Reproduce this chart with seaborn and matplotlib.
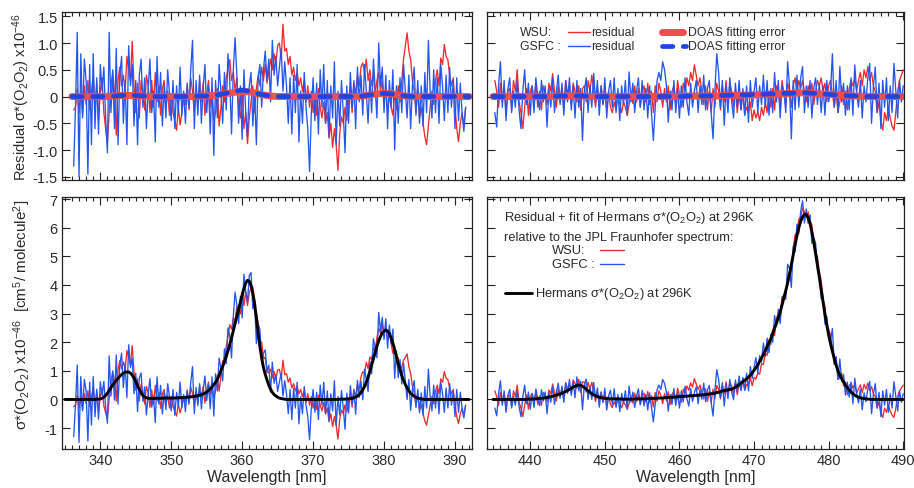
import numpy as np
import matplotlib
matplotlib.use("Agg")
import matplotlib.pyplot as plt
import seaborn as sns
from matplotlib.ticker import MultipleLocator, FuncFormatter

# ---------------- data ----------------
# residual sampling (nm)
left_start, left_step = 336.25, 0.25      # 336.25 .. 391.5
right_start, right_step = 435.25, 0.25    # 435.25 .. 490.0
fit_left_start = 335.0                    # 335.0 .. 392.0
fit_right_start = 435.0                   # 435.0 .. 490.0
err_left_start, err_right_start = 336.0, 435.0  # 1 nm steps

gsfc_res_left = [
    -1.3, -0.2, 1.2, -1.5,   0.8, -0.4, 0.7, 0.3,   -1.45, 0.6, -0.9, 0.8,
    -0.6, 0.35, -0.7, 0.6,   0.1, 0.55, -0.4, -1.05,  1.2, -0.3, 0.5, -0.6,
    0.9, -0.9, 0.4, 0.75,    -0.5, 0.3, -0.9, 0.95,   0.2, 0.6, -0.55, 0.3,
    -0.9, 0.4, 0.7, -0.2,    0.35, -0.6, 0.15, 0.7,   -0.3, 0.1, -0.85, 0.75,
    -0.2, 0.45, -0.55, 0.2,  -0.4, 0.5, 0.05, -0.45,  0.3, -0.6, 0.2, -0.3,
    0.55, -0.35, 0.1, -0.5,  0.25, -0.2, 0.5, 1.05,   -0.6, 0.3, -0.35, 0.4,
    -0.5, 0.15, 0.6, -0.3,   0.2, -0.7, 0.35, -1.1,   0.3, -0.4, 0.6, 0.1,
    -0.5, 0.45, -0.25, 0.8,  0.3, -0.7, 0.5, 1.1,     0.4, -0.5, 0.2, -0.8,
    0.5, -0.3, -0.75, 0.2,   0.45, -0.55, 0.1, -0.9,  0.35, 0.6, -0.2, 0.5,
    0.85, 0.3, 0.7, -0.1,    1.05, 0.4, 0.75, 0.2,    0.55, 0.9, 0.1, 0.65,
    0.2, -0.5, 0.35, -0.7,   0.4, -0.3, 0.6, -0.85,   0.1, -0.5, 0.45, -0.2,
    -0.6, -1.4, -0.3, 0.35,  -0.45, 0.25, -0.7, 0.5,  -0.2, 0.6, -0.5, 0.3,
    -0.75, 0.2, -0.4, 0.65,  -0.9, 0.1, -0.55, 0.3,   -0.3, -1.05, 0.2, -0.5,
    0.45, -0.2, 0.3, -0.6,   0.55, -0.1, 0.4, -0.35,  0.6, 0.1, -0.5, 0.35,
    -0.3, 0.7, 0.15, -0.4,   1.0, 0.2, 0.55, -0.3,    0.4, -0.6, 0.3, -0.2,
    0.5, -1.0, 0.2, -0.5,    0.35, -0.3, 0.6, 0.1,    -0.4, 0.4, -0.6, 0.2,
    0.55, -0.35, 0.3, -0.5,  0.2, -0.55, 0.45, -0.3,  1.05, 0.1, -0.4, 0.5,
    -0.3, 0.35, -0.5, 0.6,   0.2, -0.45, 0.4, -0.3,   0.55, -0.2, 0.3, -0.6,
    0.35, -0.45, 0.25, -0.3, -0.65, -0.2,
]

wsu_res_left = [
    -0.25, -0.2, 0.15, -0.3,  0.1, -0.35, 0.2, -0.15,  0.3, -0.25, 0.1, 0.4,
    -0.2, 0.25, -0.45, 0.1,   0.35, -0.3, -0.6, -0.88, -0.3, 0.2, 0.45, 0.1,
    -0.72, 0.3, 0.55, 0.2,    0.4, 0.1, 0.75, 0.5,     0.3, 1.03, 0.2, -0.3,
    0.25, -0.4, 0.3, 0.05,    -0.25, 0.4, 0.2, -0.3,   0.3, -0.2, 0.45, -0.1,
    0.2, -0.35, 0.15, 0.3,    -0.2, 0.1, -0.35, 0.05,  -0.3, -0.45, -0.63, -0.2,
    -0.53, -0.3, 0.05, -0.15, 0.2, -0.25, 0.35, 0.1,   -0.3, 0.15, -0.2, 0.3,
    -0.1, 0.25, -0.35, 0.05,  0.3, -0.2, 0.1, -0.45,   -0.3, 0.15, -0.55, -0.2,
    0.2, -0.1, 0.35, 0.5,     0.69, 0.3, 0.45, 0.1,    0.35, -0.2, -0.4, 0.1,
    -0.6, -0.3, -0.88, -0.4,  -0.1, 0.2, -0.3, 0.15,   0.4, 0.2, 0.55, 0.3,
    0.6, 0.25, 0.45, 0.7,     0.5, 0.8, 0.6, 0.95,     1.0, 0.7, 1.35, 0.85,
    0.9, 0.6, 0.75, 0.4,      0.55, 0.3, 0.45, 0.2,    0.35, 0.1, 0.3, -0.1,
    0.2, -0.2, 0.1, -0.3,     0.05, -0.35, 0.15, -0.2, -0.4, -0.1, -0.5, -0.3,
    -0.78, -0.5, -0.95, -0.6, -0.9, -1.38, -0.7, -0.38, -0.5, -0.2, -0.45, -0.1,
    0.15, -0.3, 0.25, 0.05,   0.4, 0.2, 0.55, 0.63,    0.45, 0.7, 0.3, 0.5,
    0.2, 0.4, 0.05, 0.3,      0.45, 0.1, 0.3, -0.1,    0.1, -0.3, 0.05, -0.2,
    -0.35, 0.1, -0.25, 0.2,   -0.1, 0.3, 0.7, 0.95,    1.19, 0.85, 0.69, 0.3,
    0.1, -0.3, 0.15, -0.4,    -0.2, -0.5, -0.75, -0.9, -0.55, -0.2, 0.1, -0.15,
    0.3, 0.5, 0.2, 0.72,      0.6, 0.97, 0.75, 0.69,   0.4, 0.2, 0.35, -0.2,
    -0.6, -0.84, -0.5, -0.3,  -0.55, -0.2,
]

gsfc_res_right = [
    -0.3, -0.57, 0.2, 0.65,   -0.2, 0.3, -0.45, 0.15,  0.35, -0.3, 0.1, -0.2,
    0.3, -0.25, -0.6, 0.1,    0.5, -0.15, 0.25, -0.35, 0.2, -0.3, 0.35, 0.0,
    -0.25, 0.3, -0.1, 0.2,    -0.57, 0.15, -0.2, 0.35, -0.3, 0.1, 0.4, -0.15,
    0.25, -0.35, 0.3, -0.1,   0.35, -0.25, 0.2, -0.4,  0.3, -0.2, 0.15, -0.82,
    0.1, 0.35, -0.3, 0.2,     -0.2, 0.43, -0.1, 0.3,   -0.35, 0.2, -0.15, 0.35,
    -0.4, 0.1, 0.3, -0.2,     0.35, -0.3, 0.15, -0.45, 0.2, -0.15, 0.3, -0.35,
    0.46, -0.1, 0.25, -0.3,   0.1, 0.35, -0.2, 0.3,    -0.25, 0.15, -0.4, 0.2,
    -0.3, -0.82, -0.2, 0.3,   0.45, 0.3, 0.65, 0.5,    0.2, -0.48, 0.1, -0.25,
    0.3, -0.3, 0.15, -0.4,    0.2, -0.2, 0.35, -0.1,   -0.35, 0.25, -0.2, 0.1,
    0.3, -0.3, 0.2, -0.15,    0.4, -0.25, 0.15, 0.3,   -0.3, -0.79, 0.1, 0.8,
    0.45, -0.2, 0.3, -0.54,   0.2, -0.3, 0.35, -0.1,   -0.4, 0.25, -0.2, 0.3,
    -0.25, 0.15, -0.35, 0.2,  -0.48, 0.3, -0.2, 0.1,   0.35, -0.3, 0.2, -0.15,
    0.4, -0.2, 0.3, -0.35,    0.15, -0.3, 0.45, -0.1,  0.3, -0.4, 0.2, 0.1,
    -0.3, 0.65, 0.2, -0.79,   0.3, -0.25, 0.4, -0.2,   0.35, 0.56, -0.3, 0.2,
    -0.2, 0.3, -0.4, 0.15,    0.35, -0.15, 0.25, -0.3, 0.2, -0.35, 0.3, -0.1,
    0.1, 0.8, -0.2, 0.3,      -0.3, 0.56, -0.1, 0.25,  -0.35, 0.2, -0.25, 0.35,
    -0.35, 0.59, 0.1, -0.2,   0.3, -0.4, 0.2, -0.1,    0.35, 0.62, -0.5, 0.2,
    0.55, -0.3, 0.25, -0.6,   0.3, -0.2, 0.35, -0.45,  0.2, -0.3, 0.62, 0.1,
    -0.4, 0.3, -0.1, 0.2,
]

wsu_res_right = [
    0.3, 0.1, -0.2, 0.25,     -0.1, 0.2, -0.3, 0.1,    0.15, -0.2, 0.3, 0.1,
    0.5, -0.1, -0.3, -0.6,    -0.2, 0.15, -0.35, 0.1,  0.2, -0.1, 0.25, -0.2,
    0.1, -0.25, 0.2, 0.05,    -0.15, 0.25, 0.1, 0.43,  0.1, -0.2, 0.2, -0.1,
    0.15, -0.25, 0.3, 0.05,   0.2, -0.15, 0.25, 0.1,   -0.1, 0.2, -0.25, 0.15,
    0.2, -0.1, 0.3, 0.1,      0.4, 0.1, -0.2, 0.15,    -0.1, 0.2, -0.15, 0.1,
    -0.25, 0.1, -0.2, -0.3,   -0.1, -0.25, 0.05, -0.15, -0.3, -0.1, -0.2, -0.35,
    -0.15, 0.1, -0.13, 0.2,   -0.1, 0.15, -0.2, 0.1,   0.2, -0.1, 0.25, -0.15,
    0.1, -0.3, 0.2, -0.1,     0.25, 0.1, -0.2, 0.15,   -0.1, 0.2, -0.25, 0.1,
    0.2, -0.15, 0.3, 0.05,    -0.2, 0.25, 0.1, 0.35,   0.2, 0.45, 0.3, 0.59,
    0.4, 0.2, 0.35, 0.1,      -0.15, 0.2, -0.25, 0.1,  -0.3, 0.15, -0.2, 0.25,
    0.1, -0.25, 0.2, -0.1,    0.3, -0.15, 0.25, 0.1,   -0.2, 0.15, -0.3, 0.05,
    -0.25, 0.1, -0.35, -0.2,  -0.3, -0.1, -0.45, -0.25, -0.4, -0.29, -0.45, -0.2,
    -0.35, -0.1, -0.3, 0.1,   -0.2, 0.15, -0.25, 0.2,  0.1, -0.2, 0.3, 0.05,
    -0.15, 0.25, 0.1, -0.2,   0.2, 0.35, 0.1, 0.3,     0.15, 0.3, 0.1, -0.1,
    0.2, 0.05, 0.25, -0.15,   0.1, 0.3, 0.2, 0.35,     0.1, 0.25, -0.1, 0.2,
    0.3, 0.05, -0.2, 0.1,     -0.3, -0.1, 0.2, -0.15,  0.1, -0.25, 0.15, 0.3,
    0.2, 0.35, 0.1, 0.3,      0.45, 0.2, 0.5, 0.35,    0.56, 0.3, 0.45, 0.2,
    0.1, -0.3, -0.1, -0.45,   -0.63, -0.3, -0.45, -0.2, -0.4, -0.55, -0.63, -0.3,
    0.1, 0.3, 0.4, 0.5,
]

hermans_left = [
    0, 0, 0, 0, 0,
    0, 0, 0, 0,   0, 0, 0, 0,   0, 0, 0, 0,   0, 0.01, 0.01, 0.02,
    0.04, 0.08, 0.14, 0.22,   0.32, 0.42, 0.5, 0.58,   0.66, 0.74, 0.81, 0.87,
    0.92, 0.95, 0.96, 0.96,   0.92, 0.85, 0.75, 0.62,  0.48, 0.35, 0.23, 0.14,
    0.09, 0.06, 0.04, 0.03,   0.03, 0.03, 0.04, 0.04,  0.04, 0.04, 0.04, 0.05,
    0.05, 0.05, 0.05, 0.05,   0.05, 0.05, 0.05, 0.06,  0.06, 0.06, 0.07, 0.07,
    0.08, 0.08, 0.09, 0.1,    0.11, 0.12, 0.13, 0.15,  0.17, 0.19, 0.22, 0.26,
    0.31, 0.37, 0.44, 0.52,   0.6, 0.7, 0.84, 1.0,     1.15, 1.32, 1.5, 1.7,
    1.92, 2.15, 2.4, 2.65,    2.9, 3.15, 3.4, 3.65,    3.88, 4.06, 4.16, 4.13,
    3.98, 3.72, 3.35, 2.85,   2.3, 1.85, 1.45, 1.12,   0.88, 0.68, 0.5, 0.36,
    0.25, 0.17, 0.12, 0.08,   0.05, 0.03, 0.02, 0.01,  0, 0, 0, 0,
    0, 0, 0, 0,   0, 0, 0, 0,   0, 0, 0, 0,   0, 0, 0, 0,   0, 0, 0, 0,
    0, 0, 0, 0,
    0, 0, 0.01, 0.01,         0.01, 0.01, 0.02, 0.02,  0.03, 0.04, 0.06, 0.08,
    0.12, 0.17, 0.24, 0.34,   0.45, 0.6, 0.78, 0.98,   1.2, 1.42, 1.65, 1.86,
    2.04, 2.2, 2.32, 2.39,    2.42, 2.39, 2.3, 2.15,   1.96, 1.74, 1.5, 1.26,
    1.04, 0.84, 0.67, 0.52,   0.4, 0.3, 0.22, 0.16,    0.11, 0.07, 0.05, 0.03,
    0.02, 0.01, 0, 0,
    0, 0, 0, 0,   0, 0, 0, 0,   0, 0, 0, 0,   0, 0, 0, 0,   0, 0, 0, 0,
    0, 0, 0, 0,
]

hermans_right = [
    0,
    0, 0, 0, 0,   0, 0, 0, 0,   0, 0, 0, 0,   0, 0, 0, 0,
    0, 0, 0.01, 0.01,         0.01, 0.02, 0.02, 0.03,  0.03, 0.04, 0.05, 0.06,
    0.07, 0.08, 0.1, 0.11,    0.13, 0.15, 0.17, 0.19,  0.22, 0.25, 0.28, 0.31,
    0.35, 0.39, 0.43, 0.46,   0.49, 0.5, 0.49, 0.46,   0.41, 0.36, 0.3, 0.25,
    0.2, 0.16, 0.13, 0.1,     0.08, 0.06, 0.05, 0.04,  0.03, 0.03, 0.02, 0.02,
    0.02, 0.02, 0.02, 0.02,   0.01, 0.01, 0.01, 0.01,  0.01, 0.01, 0.01, 0.02,
    0.02, 0.02, 0.02, 0.02,   0.02, 0.02, 0.03, 0.03,  0.03, 0.04, 0.04, 0.04,
    0.05, 0.05, 0.05, 0.06,   0.06, 0.07, 0.07, 0.08,  0.08, 0.09, 0.09, 0.1,
    0.1, 0.11, 0.11, 0.12,    0.12, 0.13, 0.13, 0.14,  0.14, 0.15, 0.15, 0.16,
    0.17, 0.17, 0.18, 0.19,   0.2, 0.21, 0.22, 0.24,   0.25, 0.27, 0.29, 0.31,
    0.32, 0.33, 0.35, 0.36,   0.39, 0.43, 0.47, 0.52,  0.57, 0.62, 0.67, 0.72,
    0.78, 0.85, 0.93, 1.02,   1.11, 1.21, 1.33, 1.45,  1.57, 1.7, 1.84, 1.98,
    2.12, 2.3, 2.48, 2.66,    2.85, 3.05, 3.3, 3.55,   3.8, 4.07, 4.37, 4.7,
    5.05, 5.4, 5.72, 6.0,     6.22, 6.38, 6.46, 6.45,  6.35, 6.15, 5.85, 5.5,
    5.1, 4.68, 4.25, 3.82,    3.4, 2.98, 2.6, 2.25,    1.95, 1.68, 1.43, 1.2,
    1.0, 0.85, 0.72, 0.62,    0.5, 0.41, 0.33, 0.26,   0.2, 0.15, 0.11, 0.08,
    0.06, 0.04, 0.03, 0.02,   0.01, 0.01, 0, 0,
    0, 0, 0, 0,   0, 0, 0, 0,   0, 0, 0, 0,   0, 0, 0, 0,
]

wsu_err_left = [
    0, 0, 0, 0, 0, 0, 0.01,  0.02, 0.02, 0.02, 0.01, 0, 0, 0,
    0, 0, 0, 0, 0.01, 0.01, 0.02,  0.04, 0.06, 0.08, 0.09, 0.09, 0.06, 0.03,
    0.01, 0, 0, 0, 0, 0, 0,  0, 0, 0, 0, 0, 0, 0.01,
    0.03, 0.05, 0.06, 0.05, 0.03, 0.01, 0,  0, 0, 0, 0, 0, 0, 0,  0,
]
gsfc_err_left = [
    0, 0, 0, 0, 0, 0, 0.01,  0.02, 0.03, 0.02, 0.01, 0, 0, 0,
    0, 0, 0, 0, 0.01, 0.01, 0.02,  0.04, 0.07, 0.1, 0.12, 0.1, 0.06, 0.03,
    0.01, 0, 0, 0, 0, 0, 0,  0, 0, 0, 0, 0, 0, 0.01,
    0.03, 0.05, 0.06, 0.05, 0.03, 0.01, 0,  0, 0, 0, 0, 0, 0, 0,  0,
]
wsu_err_right = [
    0, 0, 0, 0, 0, 0, 0,  0, 0, 0.01, 0.01, 0.01, 0.01, 0,
    0, 0, 0, 0, 0, 0, 0,  0, 0, 0, 0, 0, 0.01, 0.01,
    0.01, 0.01, 0.01, 0.02, 0.02, 0.02, 0.03,  0.03, 0.04, 0.04, 0.05, 0.05, 0.06, 0.07,
    0.07, 0.06, 0.05, 0.04, 0.03, 0.02, 0.01,  0.01, 0, 0, 0, 0, 0, 0,
]
gsfc_err_right = [
    0, 0, 0, 0, 0, 0, 0,  0, 0, 0.01, 0.01, 0.01, 0.01, 0,
    0, 0, 0, 0, 0, 0, 0,  0, 0, 0, 0, 0, 0.01, 0.01,
    0.01, 0.01, 0.02, 0.02, 0.03, 0.03, 0.03,  0.04, 0.04, 0.05, 0.05, 0.06, 0.06, 0.07,
    0.07, 0.06, 0.05, 0.04, 0.03, 0.02, 0.01,  0.01, 0, 0, 0, 0, 0, 0,
]

# ---------------- derived x grids ----------------
x_res_left = left_start + left_step * np.arange(len(wsu_res_left))
x_res_right = right_start + right_step * np.arange(len(wsu_res_right))
x_fit_left = fit_left_start + left_step * np.arange(len(hermans_left))
x_fit_right = fit_right_start + right_step * np.arange(len(hermans_right))
x_err_left = err_left_start + np.arange(len(wsu_err_left))
x_err_right = err_right_start + np.arange(len(wsu_err_right))

off_l = int(round((left_start - fit_left_start) / left_step))
off_r = int(round((right_start - fit_right_start) / right_step))
hl = np.array(hermans_left)[off_l:off_l + len(wsu_res_left)]
hr = np.array(hermans_right)[off_r:off_r + len(wsu_res_right)]
wsu_tot_left = hl + np.array(wsu_res_left)
gsfc_tot_left = hl + np.array(gsfc_res_left)
wsu_tot_right = hr + np.array(wsu_res_right)
gsfc_tot_right = hr + np.array(gsfc_res_right)

# ---------------- style ----------------
sns.set_theme(style="ticks")
plt.rcParams['font.family'] = ['Liberation Sans', 'DejaVu Sans']
plt.rcParams['axes.unicode_minus'] = False
plt.rcParams['mathtext.fontset'] = 'custom'
plt.rcParams['mathtext.rm'] = 'Liberation Sans'
plt.rcParams['mathtext.it'] = 'Liberation Sans:italic'
plt.rcParams['mathtext.default'] = 'regular'

RED = '#f22a2a'
BLUE = '#2456ee'
ERR_RED = '#f24c4c'
ERR_BLUE = '#1f44e0'
TXT = '#2a2a2a'

W, H = 914, 489
fig = plt.figure(figsize=(W / 100, H / 100), dpi=100)

def ax_at(x0, y0, x1, y1):
    return fig.add_axes([x0 / W, 1 - y1 / H, (x1 - x0) / W, (y1 - y0) / H])

ax_tl = ax_at(62, 13, 472, 181)
ax_tr = ax_at(487, 13, 904, 181)
ax_bl = ax_at(62, 198, 472, 450)
ax_br = ax_at(487, 198, 904, 450)

LW_RES = 0.95

def draw_resid(ax, x, wsu, gsfc, xe, we, ge):
    sns.lineplot(x=x, y=wsu, ax=ax, color=RED, lw=LW_RES, estimator=None, sort=False, legend=False)
    sns.lineplot(x=x, y=gsfc, ax=ax, color=BLUE, lw=LW_RES, estimator=None, sort=False, legend=False)
    sns.lineplot(x=xe, y=we, ax=ax, color=ERR_RED, lw=5.0, alpha=0.95, estimator=None,
                 sort=False, legend=False, solid_capstyle='round')
    sns.lineplot(x=xe, y=ge, ax=ax, color=ERR_BLUE, lw=3.4, estimator=None, sort=False,
                 legend=False, linestyle=(0, (2.2, 2.2)), dash_capstyle='round')

def draw_total(ax, x, wsu, gsfc, xf, fit):
    sns.lineplot(x=x, y=wsu, ax=ax, color=RED, lw=LW_RES, estimator=None, sort=False, legend=False)
    sns.lineplot(x=x, y=gsfc, ax=ax, color=BLUE, lw=LW_RES, estimator=None, sort=False, legend=False)
    sns.lineplot(x=xf, y=fit, ax=ax, color='black', lw=2.1, estimator=None, sort=False, legend=False)

draw_resid(ax_tl, x_res_left, wsu_res_left, gsfc_res_left, x_err_left, wsu_err_left, gsfc_err_left)
draw_resid(ax_tr, x_res_right, wsu_res_right, gsfc_res_right, x_err_right, wsu_err_right, gsfc_err_right)
draw_total(ax_bl, x_res_left, wsu_tot_left, gsfc_tot_left, x_fit_left, hermans_left)
draw_total(ax_br, x_res_right, wsu_tot_right, gsfc_tot_right, x_fit_right, hermans_right)

top_fmt = FuncFormatter(lambda v, p: '0' if abs(v) < 1e-9 else f'{v:.1f}')
bot_fmt = FuncFormatter(lambda v, p: f'{v:.0f}')

for ax in (ax_tl, ax_tr, ax_bl, ax_br):
    ax.set_xlabel('')
    ax.set_ylabel('')
    ax.xaxis.set_major_locator(MultipleLocator(10))
    ax.xaxis.set_minor_locator(MultipleLocator(1))
    ax.tick_params(which='both', direction='in', top=True, right=True, bottom=True, left=True,
                   width=0.8, color='#222222', labelsize=10.5, labelcolor=TXT, pad=3)
    ax.tick_params(which='major', length=5.5)
    ax.tick_params(which='minor', length=3)
    for s in ax.spines.values():
        s.set_linewidth(0.9)
        s.set_color('#222222')

for ax in (ax_tl, ax_bl):
    ax.set_xlim(334.6, 392.4)
for ax in (ax_tr, ax_br):
    ax.set_xlim(434.2, 490.1)
for ax in (ax_tl, ax_tr):
    ax.set_ylim(-1.56, 1.58)
    ax.yaxis.set_major_locator(MultipleLocator(0.5))
    ax.yaxis.set_major_formatter(top_fmt)
    ax.tick_params(axis='x', labelbottom=False)
for ax in (ax_bl, ax_br):
    ax.set_ylim(-1.73, 7.07)
    ax.yaxis.set_major_locator(MultipleLocator(1))
    ax.yaxis.set_major_formatter(bot_fmt)
    ax.set_xlabel('Wavelength [nm]', fontsize=11.5, color=TXT, labelpad=1)
ax_tr.tick_params(axis='y', labelleft=False)
ax_br.tick_params(axis='y', labelleft=False)

ax_tl.set_ylabel('Residual σ*(O$_2$O$_2$) x10$^{-46}$', fontsize=10.5, color=TXT)
ax_tl.yaxis.set_label_coords(-0.073, 0.5)
ax_bl.set_ylabel('σ*(O$_2$O$_2$) x10$^{-46}$  [cm$^5$/ molecule$^2$]', fontsize=11, color=TXT)
ax_bl.yaxis.set_label_coords(-0.071, 0.535)

# legend, top right panel
fs = 8.8
tr = ax_tr.transAxes
ax_tr.text(0.079, 0.882, 'WSU:', transform=tr, fontsize=fs, color=TXT, va='center')
ax_tr.text(0.079, 0.799, 'GSFC :', transform=tr, fontsize=fs, color=TXT, va='center')
ax_tr.plot([0.195, 0.247], [0.882, 0.882], transform=tr, color=RED, lw=1.0)
ax_tr.plot([0.195, 0.247], [0.799, 0.799], transform=tr, color=BLUE, lw=1.0)
ax_tr.text(0.249, 0.882, 'residual', transform=tr, fontsize=fs, color=TXT, va='center')
ax_tr.text(0.249, 0.799, 'residual', transform=tr, fontsize=fs, color=TXT, va='center')
ax_tr.plot([0.42, 0.47], [0.882, 0.882], transform=tr, color=ERR_RED, lw=5.0, solid_capstyle='round')
ax_tr.plot([0.42, 0.478], [0.799, 0.799], transform=tr, color=ERR_BLUE, lw=3.4,
           linestyle=(0, (2.2, 2.2)), dash_capstyle='round')
ax_tr.text(0.482, 0.882, 'DOAS fitting error', transform=tr, fontsize=fs, color=TXT, va='center')
ax_tr.text(0.482, 0.799, 'DOAS fitting error', transform=tr, fontsize=fs, color=TXT, va='center')

# legend, bottom right panel
fs2 = 9.3
br = ax_br.transAxes
ax_br.text(0.041, 0.921, 'Residual + fit of Hermans σ*(O$_2$O$_2$) at 296K', transform=br,
           fontsize=fs2, color=TXT, va='center')
ax_br.text(0.041, 0.843, 'relative to the JPL Fraunhofer spectrum:', transform=br,
           fontsize=fs2, color=TXT, va='center')
ax_br.text(0.155, 0.79, 'WSU:', transform=br, fontsize=fs2, color=TXT, va='center')
ax_br.text(0.155, 0.734, 'GSFC :', transform=br, fontsize=fs2, color=TXT, va='center')
ax_br.plot([0.272, 0.328], [0.79, 0.79], transform=br, color=RED, lw=1.0)
ax_br.plot([0.272, 0.328], [0.734, 0.734], transform=br, color=BLUE, lw=1.0)
ax_br.plot([0.043, 0.108], [0.619, 0.619], transform=br, color='black', lw=2.1)
ax_br.text(0.114, 0.619, 'Hermans σ*(O$_2$O$_2$) at 296K', transform=br, fontsize=fs2,
           color=TXT, va='center')

fig.savefig('out.png', dpi=100)
